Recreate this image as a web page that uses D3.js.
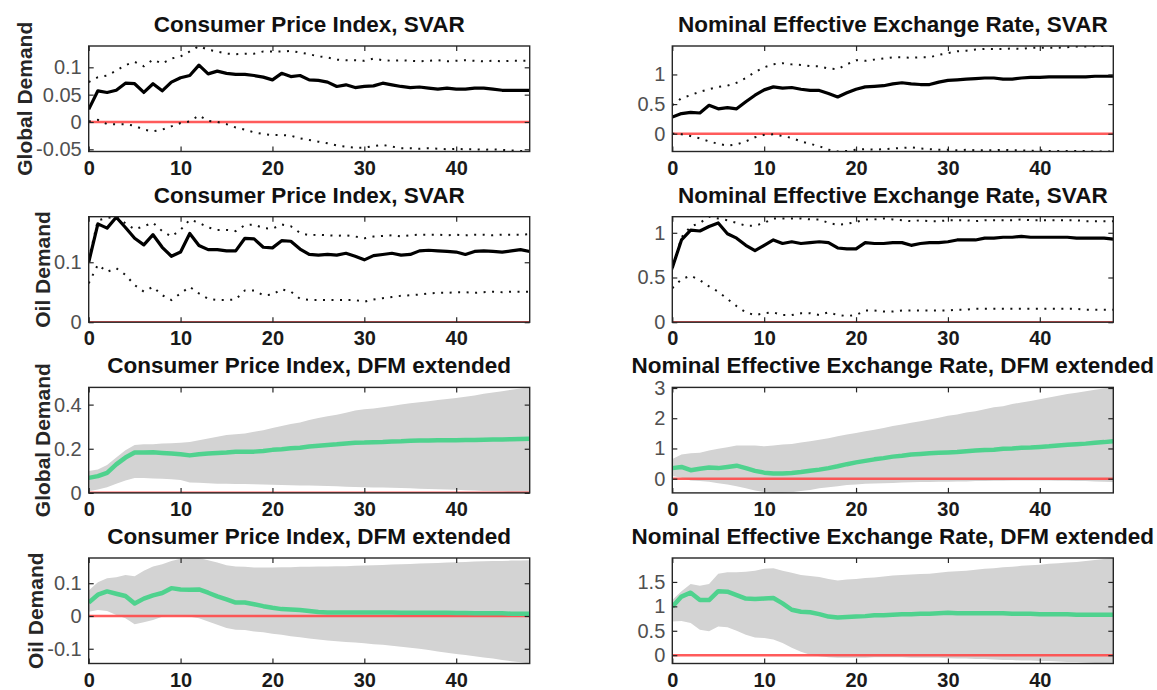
<!DOCTYPE html>
<html>
<head>
<meta charset="utf-8">
<script src="https://cdn.jsdelivr.net/npm/d3@7"></script>
<style>
	body { margin: 0; background: #fff; }
	svg { display: block; font-family: "Liberation Sans", Arial, sans-serif; }
</style>
</head>
<body>
<div id="chart"></div>
<script>

// horizons (months after the shock)
var horizon = [0,1,2,3,4,5,6,7,8,9,10,11,12,13,14,15,16,17,18,19,20,21,22,23,24,25,26,27,28,29,30,31,32,33,34,35,36,37,38,39,40,41,42,43,44,45,46,47,48];

var xTicks = [0, 10, 20, 30, 40];

var rowLabels = ['Global Demand', 'Oil Demand', 'Global Demand', 'Oil Demand'];
var colTitles = ['Consumer Price Index', 'Nominal Effective Exchange Rate'];
var modelNames = ['SVAR', 'SVAR', 'DFM extended', 'DFM extended'];

// CPI, SVAR, global demand
var cpiGlobalSvarMed = [0.023,0.057,0.054,0.058,0.071,0.070,0.054,0.070,0.057,0.073,0.081,0.085,0.104,0.088,0.093,0.089,0.087,0.087,0.085,0.082,0.077,0.089,0.083,0.085,0.077,0.076,0.073,0.065,0.068,0.063,0.065,0.066,0.071,0.068,0.065,0.063,0.064,0.062,0.060,0.062,0.060,0.060,0.062,0.062,0.060,0.058,0.058,0.058,0.058];
var cpiGlobalSvarHi = [0.073,0.082,0.085,0.094,0.104,0.110,0.102,0.114,0.107,0.116,0.120,0.129,0.139,0.132,0.129,0.125,0.124,0.125,0.125,0.129,0.129,0.129,0.130,0.127,0.124,0.120,0.118,0.114,0.113,0.113,0.112,0.116,0.113,0.112,0.113,0.112,0.111,0.112,0.113,0.111,0.112,0.113,0.112,0.111,0.112,0.111,0.112,0.112,0.112];
var cpiGlobalSvarLo = [0.001,0.004,-0.004,-0.004,-0.004,-0.007,-0.014,-0.017,-0.014,-0.008,-0.002,0.001,0.012,0.002,0.000,-0.004,-0.010,-0.014,-0.019,-0.022,-0.024,-0.024,-0.025,-0.030,-0.033,-0.036,-0.039,-0.043,-0.045,-0.047,-0.047,-0.044,-0.042,-0.045,-0.048,-0.048,-0.049,-0.048,-0.049,-0.050,-0.049,-0.050,-0.050,-0.051,-0.050,-0.051,-0.052,-0.053,-0.054];

// NEER, SVAR, global demand
var neerGlobalSvarMed = [0.28,0.34,0.36,0.35,0.48,0.42,0.44,0.42,0.54,0.65,0.74,0.79,0.77,0.78,0.75,0.73,0.73,0.68,0.62,0.69,0.75,0.79,0.80,0.81,0.84,0.86,0.84,0.83,0.83,0.87,0.90,0.91,0.92,0.93,0.94,0.94,0.92,0.92,0.94,0.95,0.95,0.96,0.96,0.96,0.96,0.96,0.97,0.97,0.97];
var neerGlobalSvarHi = [0.48,0.60,0.65,0.71,0.75,0.79,0.81,0.86,0.94,1.04,1.12,1.17,1.19,1.17,1.16,1.14,1.14,1.10,1.09,1.17,1.24,1.23,1.25,1.27,1.29,1.29,1.28,1.29,1.29,1.33,1.36,1.39,1.40,1.42,1.43,1.43,1.43,1.44,1.43,1.45,1.45,1.45,1.45,1.46,1.47,1.47,1.48,1.48,1.48];
var neerGlobalSvarLo = [0.00,-0.01,-0.04,-0.08,-0.13,-0.17,-0.20,-0.18,-0.13,-0.06,-0.02,-0.01,-0.04,-0.07,-0.13,-0.17,-0.21,-0.27,-0.30,-0.29,-0.27,-0.26,-0.27,-0.26,-0.25,-0.24,-0.23,-0.25,-0.26,-0.27,-0.27,-0.28,-0.27,-0.28,-0.28,-0.28,-0.27,-0.28,-0.28,-0.29,-0.28,-0.29,-0.29,-0.29,-0.29,-0.29,-0.30,-0.30,-0.30];

// CPI, SVAR, oil demand
var cpiOilSvarMed = [0.100,0.164,0.157,0.175,0.158,0.140,0.129,0.146,0.125,0.110,0.117,0.148,0.128,0.121,0.121,0.119,0.119,0.140,0.139,0.125,0.124,0.136,0.135,0.122,0.113,0.112,0.113,0.112,0.115,0.110,0.104,0.111,0.113,0.115,0.112,0.113,0.119,0.120,0.119,0.118,0.117,0.113,0.118,0.119,0.118,0.117,0.119,0.121,0.118];
var cpiOilSvarHi = [0.105,0.170,0.174,0.176,0.165,0.155,0.160,0.166,0.152,0.143,0.154,0.171,0.166,0.158,0.154,0.154,0.152,0.162,0.163,0.157,0.156,0.163,0.160,0.149,0.145,0.146,0.145,0.144,0.145,0.143,0.140,0.143,0.144,0.145,0.143,0.145,0.146,0.146,0.146,0.145,0.146,0.145,0.146,0.146,0.145,0.146,0.146,0.146,0.147];
var cpiOilSvarLo = [0.065,0.096,0.084,0.090,0.079,0.062,0.051,0.059,0.045,0.037,0.048,0.059,0.048,0.039,0.037,0.037,0.038,0.053,0.053,0.045,0.046,0.055,0.051,0.039,0.037,0.037,0.037,0.037,0.037,0.037,0.034,0.038,0.040,0.042,0.044,0.045,0.046,0.048,0.049,0.049,0.050,0.050,0.049,0.050,0.051,0.050,0.051,0.051,0.051];

// NEER, SVAR, oil demand
var neerOilSvarMed = [0.61,0.92,1.03,1.02,1.07,1.11,0.99,0.94,0.86,0.80,0.86,0.92,0.88,0.90,0.88,0.89,0.90,0.89,0.83,0.82,0.82,0.89,0.88,0.88,0.89,0.89,0.86,0.88,0.89,0.89,0.90,0.92,0.92,0.92,0.94,0.94,0.95,0.95,0.96,0.95,0.95,0.95,0.95,0.95,0.94,0.94,0.94,0.94,0.93];
var neerOilSvarHi = [0.59,0.95,1.07,1.11,1.18,1.16,1.14,1.11,1.08,1.08,1.11,1.16,1.16,1.16,1.16,1.15,1.15,1.11,1.09,1.10,1.12,1.15,1.15,1.16,1.15,1.14,1.13,1.14,1.13,1.13,1.14,1.14,1.14,1.13,1.14,1.14,1.14,1.14,1.15,1.14,1.14,1.14,1.14,1.14,1.14,1.13,1.13,1.13,1.13];
var neerOilSvarLo = [0.38,0.48,0.52,0.47,0.40,0.34,0.26,0.18,0.11,0.08,0.10,0.11,0.08,0.08,0.10,0.10,0.08,0.11,0.08,0.07,0.08,0.13,0.13,0.12,0.12,0.13,0.13,0.13,0.13,0.13,0.13,0.14,0.14,0.15,0.15,0.15,0.15,0.15,0.15,0.15,0.15,0.15,0.15,0.15,0.15,0.14,0.14,0.14,0.14];

// CPI, DFM extended, global demand
var cpiGlobalDfmMed = [0.068,0.076,0.091,0.129,0.160,0.183,0.183,0.184,0.181,0.178,0.175,0.170,0.175,0.178,0.181,0.183,0.186,0.186,0.187,0.190,0.195,0.198,0.202,0.205,0.210,0.214,0.217,0.220,0.224,0.227,0.228,0.230,0.231,0.233,0.234,0.236,0.237,0.237,0.239,0.239,0.239,0.240,0.240,0.241,0.242,0.242,0.243,0.244,0.245];
var cpiGlobalDfmHi = [0.099,0.106,0.126,0.160,0.193,0.217,0.220,0.220,0.224,0.225,0.227,0.231,0.239,0.246,0.254,0.262,0.266,0.269,0.277,0.284,0.294,0.303,0.312,0.319,0.330,0.339,0.347,0.354,0.363,0.373,0.379,0.382,0.388,0.394,0.400,0.406,0.411,0.415,0.421,0.426,0.430,0.436,0.441,0.449,0.455,0.461,0.467,0.473,0.478];
var cpiGlobalDfmLo = [0.008,0.015,0.026,0.041,0.056,0.068,0.068,0.065,0.064,0.062,0.058,0.047,0.046,0.044,0.042,0.041,0.040,0.040,0.039,0.038,0.037,0.036,0.035,0.034,0.033,0.032,0.031,0.030,0.028,0.027,0.026,0.025,0.024,0.023,0.022,0.021,0.019,0.018,0.016,0.015,0.014,0.012,0.011,0.009,0.008,0.006,0.004,0.002,0.000];

// NEER, DFM extended, global demand
var neerGlobalDfmMed = [0.35,0.39,0.28,0.33,0.37,0.35,0.39,0.43,0.35,0.26,0.20,0.17,0.17,0.19,0.22,0.26,0.30,0.35,0.41,0.48,0.54,0.59,0.64,0.68,0.73,0.76,0.80,0.82,0.84,0.86,0.87,0.88,0.91,0.93,0.95,0.96,0.99,1.00,1.02,1.03,1.05,1.07,1.10,1.12,1.14,1.16,1.19,1.21,1.24];
var neerGlobalDfmHi = [0.65,0.80,0.84,0.86,0.93,0.99,1.04,1.10,1.10,1.10,1.07,1.10,1.13,1.15,1.20,1.24,1.29,1.34,1.40,1.46,1.51,1.57,1.62,1.68,1.74,1.79,1.85,1.90,1.96,2.02,2.08,2.12,2.19,2.23,2.30,2.36,2.40,2.47,2.52,2.57,2.63,2.69,2.74,2.80,2.84,2.89,2.94,2.98,3.02];
var neerGlobalDfmLo = [0.09,0.03,-0.06,-0.08,-0.10,-0.15,-0.19,-0.25,-0.32,-0.39,-0.44,-0.47,-0.47,-0.45,-0.41,-0.37,-0.32,-0.28,-0.25,-0.21,-0.19,-0.17,-0.16,-0.15,-0.14,-0.13,-0.12,-0.11,-0.11,-0.10,-0.10,-0.09,-0.09,-0.08,-0.08,-0.07,-0.07,-0.06,-0.06,-0.06,-0.06,-0.06,-0.07,-0.07,-0.08,-0.08,-0.09,-0.10,-0.11];

// CPI, DFM extended, oil demand
var cpiOilDfmMed = [0.041,0.065,0.075,0.068,0.061,0.038,0.053,0.063,0.070,0.085,0.081,0.080,0.081,0.071,0.060,0.051,0.041,0.041,0.036,0.030,0.025,0.021,0.020,0.018,0.015,0.012,0.011,0.011,0.011,0.011,0.011,0.011,0.011,0.011,0.010,0.010,0.010,0.010,0.010,0.010,0.009,0.009,0.008,0.008,0.008,0.008,0.007,0.007,0.007];
var cpiOilDfmHi = [0.078,0.103,0.115,0.118,0.125,0.121,0.138,0.151,0.158,0.168,0.175,0.177,0.177,0.170,0.163,0.155,0.151,0.150,0.148,0.148,0.148,0.149,0.149,0.150,0.150,0.151,0.151,0.152,0.152,0.153,0.154,0.155,0.156,0.157,0.158,0.159,0.160,0.161,0.162,0.163,0.164,0.165,0.166,0.167,0.168,0.168,0.169,0.169,0.170];
var cpiOilDfmLo = [0.013,0.018,0.015,0.003,-0.007,-0.025,-0.019,-0.012,-0.002,0.001,0.000,-0.002,-0.007,-0.017,-0.027,-0.037,-0.042,-0.043,-0.047,-0.050,-0.054,-0.057,-0.062,-0.065,-0.069,-0.072,-0.075,-0.077,-0.079,-0.081,-0.083,-0.086,-0.088,-0.091,-0.094,-0.097,-0.100,-0.104,-0.108,-0.112,-0.116,-0.119,-0.123,-0.127,-0.130,-0.134,-0.138,-0.141,-0.145];

// NEER, DFM extended, oil demand
var neerOilDfmMed = [0.99,1.20,1.28,1.13,1.13,1.31,1.30,1.23,1.16,1.15,1.16,1.17,1.06,0.93,0.89,0.88,0.84,0.79,0.77,0.78,0.79,0.80,0.82,0.82,0.83,0.84,0.84,0.85,0.85,0.86,0.87,0.86,0.86,0.86,0.86,0.86,0.86,0.85,0.85,0.85,0.84,0.84,0.84,0.84,0.83,0.83,0.83,0.83,0.83];
var neerOilDfmHi = [1.13,1.31,1.46,1.42,1.46,1.67,1.70,1.70,1.71,1.73,1.77,1.78,1.73,1.69,1.64,1.62,1.60,1.56,1.53,1.55,1.56,1.58,1.59,1.61,1.63,1.64,1.65,1.66,1.67,1.69,1.71,1.72,1.73,1.75,1.77,1.78,1.80,1.81,1.83,1.84,1.85,1.87,1.88,1.90,1.91,1.93,1.95,1.97,1.99];
var neerOilDfmLo = [0.69,0.70,0.66,0.52,0.49,0.59,0.57,0.50,0.42,0.36,0.35,0.32,0.25,0.15,0.07,0.01,-0.02,-0.04,-0.05,-0.05,-0.05,-0.05,-0.04,-0.04,-0.04,-0.04,-0.05,-0.05,-0.05,-0.05,-0.06,-0.07,-0.07,-0.08,-0.08,-0.09,-0.10,-0.10,-0.11,-0.11,-0.12,-0.12,-0.13,-0.14,-0.14,-0.15,-0.16,-0.16,-0.17];

// y tick labels, one list per panel (row by row, left then right)
var yTicksCpiGlobalSvar = [-0.05, 0, 0.05, 0.1];
var yTicksNeerGlobalSvar = [0, 0.5, 1];
var yTicksCpiOilSvar = [0, 0.1];
var yTicksNeerOilSvar = [0, 0.5, 1];
var yTicksCpiGlobalDfm = [0, 0.2, 0.4];
var yTicksNeerGlobalDfm = [0, 1, 2, 3];
var yTicksCpiOilDfm = [-0.1, 0, 0.1];
var yTicksNeerOilDfm = [0, 0.5, 1, 1.5];


function irfPanel() {

	var width = 441;
	var height = 105.5;

	var fmt = function(v) {
		return String(+v.toFixed(4));
	};

	function chart(selection) {
		selection.each(function(d) {

			var g = d3.select(this);
			var clipId = 'clip-' + d.row + '-' + d.col;

			// axis tight, like matlab: limits from all drawn values (zero line included)
			var allValues = d.lo.concat(d.hi, d.med, [0]);

			var x = d3.scaleLinear()
				.domain([horizon[0], horizon[horizon.length - 1]])
				.range([0, width]);

			var y = d3.scaleLinear()
				.domain(d3.extent(allValues))
				.range([height, 0]);

			g.append("clipPath")
				.attr("id", clipId)
				.append("rect")
				.attr("width", width)
				.attr("height", height);

			var plot = g.append("g")
				.attr("clip-path", "url(#" + clipId + ")");

			var line = function(values) {
				return d3.line()
					.x(function(v, i) { return x(horizon[i]); })
					.y(function(v) { return y(v); })(values);
			};

			if (d.kind === 'dfm') {
				var band = d3.area()
					.x(function(v, i) { return x(horizon[i]); })
					.y0(function(v, i) { return y(d.lo[i]); })
					.y1(function(v, i) { return y(d.hi[i]); });

				plot.append("path")
					.attr("d", band(horizon))
					.style("fill", "#d3d3d3")
					.style("stroke", "none");
			}

			plot.append("line")
				.attr("x1", 0)
				.attr("x2", width)
				.attr("y1", y(0))
				.attr("y2", y(0))
				.style("stroke", "#ff4a4a")
				.style("stroke-width", 2.6)
				.style("opacity", 0.9);

			if (d.kind === 'svar') {
				[d.lo, d.hi].forEach(function(s) {
					plot.append("path")
						.attr("d", line(s))
						.style("fill", "none")
						.style("stroke", "#111")
						.style("stroke-width", 2)
						.style("stroke-dasharray", "2,6.5");
				});

				plot.append("path")
					.attr("d", line(d.med))
					.style("fill", "none")
					.style("stroke", "#000")
					.style("stroke-width", 3.2)
					.style("stroke-linejoin", "round");
			} else {
				plot.append("path")
					.attr("d", line(d.med))
					.style("fill", "none")
					.style("stroke", "#4fd28e")
					.style("stroke-width", 4.5)
					.style("stroke-linejoin", "round");
			}

			// axes, ticks point inward on all four sides
			var yAxis = g.append("g")
				.attr("class", "y axis")
				.call(d3.axisLeft(y).tickValues(d.yTicks).tickSize(-5).tickPadding(7).tickFormat(fmt));

			g.append("g")
				.attr("transform", "translate(" + width + ",0)")
				.call(d3.axisRight(y).tickValues(d.yTicks).tickSize(-5).tickFormat(""));

			g.append("g")
				.attr("class", "x axis")
				.attr("transform", "translate(0," + height + ")")
				.call(d3.axisBottom(x).tickValues(xTicks).tickSize(-5).tickPadding(9).tickFormat(fmt));

			g.append("g")
				.call(d3.axisTop(x).tickValues(xTicks).tickSize(-5).tickFormat(""));

			g.selectAll(".domain").remove();
			g.selectAll(".tick line")
				.style("stroke", "#262626")
				.style("stroke-width", 1.2);

			yAxis.selectAll("text")
				.style("font-size", "20px")
				.style("fill", "#505050");

			g.select(".x.axis").selectAll("text")
				.style("font-size", "20px")
				.style("font-weight", "bold")
				.style("fill", "#1a1a1a");

			g.append("rect")
				.attr("width", width)
				.attr("height", height)
				.style("fill", "none")
				.style("stroke", "#262626")
				.style("stroke-width", 1.4);

			g.append("text")
				.attr("x", width / 2)
				.attr("y", -14)
				.style("text-anchor", "middle")
				.style("font-size", "22.5px")
				.style("font-weight", "bold")
				.style("fill", "#111")
				.text(d.title);

			if (d.ylabel) {
				var bb = yAxis.node().getBBox();
				g.append("text")
					.attr("transform", "translate(" + (bb.x - 4) + "," + height / 2 + ") rotate(-90)")
					.style("text-anchor", "middle")
					.style("font-size", "21px")
					.style("font-weight", "bold")
					.style("fill", "#262626")
					.text(d.ylabel);
			}
		});
	}

	chart.width = function(_) {
		if (!arguments.length) return width;
		width = _;
		return chart;
	};

	chart.height = function(_) {
		if (!arguments.length) return height;
		height = _;
		return chart;
	};

	return chart;
}


var colLeft = [88.7, 672.3];
var rowTop = [46, 216.7, 387.4, 558];

var panels = [
	{ row: 0, col: 0, kind: 'svar', med: cpiGlobalSvarMed, lo: cpiGlobalSvarLo, hi: cpiGlobalSvarHi, yTicks: yTicksCpiGlobalSvar },
	{ row: 0, col: 1, kind: 'svar', med: neerGlobalSvarMed, lo: neerGlobalSvarLo, hi: neerGlobalSvarHi, yTicks: yTicksNeerGlobalSvar },
	{ row: 1, col: 0, kind: 'svar', med: cpiOilSvarMed, lo: cpiOilSvarLo, hi: cpiOilSvarHi, yTicks: yTicksCpiOilSvar },
	{ row: 1, col: 1, kind: 'svar', med: neerOilSvarMed, lo: neerOilSvarLo, hi: neerOilSvarHi, yTicks: yTicksNeerOilSvar },
	{ row: 2, col: 0, kind: 'dfm', med: cpiGlobalDfmMed, lo: cpiGlobalDfmLo, hi: cpiGlobalDfmHi, yTicks: yTicksCpiGlobalDfm },
	{ row: 2, col: 1, kind: 'dfm', med: neerGlobalDfmMed, lo: neerGlobalDfmLo, hi: neerGlobalDfmHi, yTicks: yTicksNeerGlobalDfm },
	{ row: 3, col: 0, kind: 'dfm', med: cpiOilDfmMed, lo: cpiOilDfmLo, hi: cpiOilDfmHi, yTicks: yTicksCpiOilDfm },
	{ row: 3, col: 1, kind: 'dfm', med: neerOilDfmMed, lo: neerOilDfmLo, hi: neerOilDfmHi, yTicks: yTicksNeerOilDfm }
];

panels.forEach(function(p) {
	p.title = colTitles[p.col] + ', ' + modelNames[p.row];
	p.ylabel = p.col === 0 ? rowLabels[p.row] : null;
});

var svg = d3.select("#chart")
	.append("svg")
	.attr("width", 1157)
	.attr("height", 690);

svg.append("rect")
	.attr("width", 1157)
	.attr("height", 690)
	.style("fill", "#fff");

svg.selectAll("g.panel")
	.data(panels)
	.enter()
	.append("g")
	.attr("class", "panel")
	.attr("transform", function(d) {
		return "translate(" + colLeft[d.col] + "," + rowTop[d.row] + ")";
	})
	.call(irfPanel());

</script>
</body>
</html>
